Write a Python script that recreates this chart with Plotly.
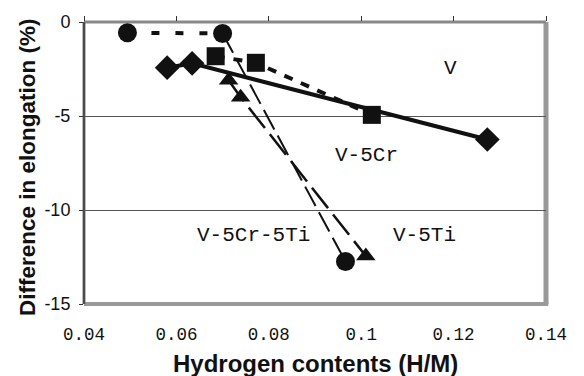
import plotly.graph_objects as go

# ---- data ----
v_x = [0.058, 0.0634, 0.1273]
v_y = [-2.43, -2.2, -6.25]

v5cr_x = [0.0685, 0.0772, 0.1023]
v5cr_y = [-1.82, -2.17, -4.94]

v5cr5ti_x = [0.0494, 0.0700, 0.0966]
v5cr5ti_y = [-0.57, -0.61, -12.74]

v5ti_x = [0.0713, 0.0739, 0.1010]
v5ti_y = [-3.1, -4.0, -12.45]

x_ticks = [0.04, 0.06, 0.08, 0.10, 0.12, 0.14]
x_ticktext = ["0.04", "0.06", "0.08", "0.1", "0.12", "0.14"]
y_ticks = [-15, -10, -5, 0]
y_ticktext = ["-15", "-10", "-5", "0"]

labels = ["V", "V-5Cr", "V-5Cr-5Ti", "V-5Ti"]
label_x = [0.1193, 0.1011, 0.0767, 0.1138]
label_y = [-2.47, -7.1, -11.36, -11.36]

x_title = "Hydrogen contents (H/M)"
y_title = "Difference in elongation (%)"

INK = "#111111"
fig = go.Figure()

# V: solid line + diamonds
fig.add_trace(go.Scatter(x=v_x, y=v_y, mode="lines+markers",
                         line=dict(color=INK, width=4),
                         marker=dict(symbol="diamond", size=19, color=INK),
                         cliponaxis=False, showlegend=False))
# V-5Cr: dashed line + squares
fig.add_trace(go.Scatter(x=v5cr_x, y=v5cr_y, mode="lines+markers",
                         line=dict(color=INK, width=4, dash="9px,9px"),
                         marker=dict(symbol="square", size=18, color=INK),
                         cliponaxis=False, showlegend=False))
# V-5Cr-5Ti: short dashes first segment, long thin dashes second
fig.add_trace(go.Scatter(x=v5cr5ti_x[:2], y=v5cr5ti_y[:2], mode="lines",
                         line=dict(color=INK, width=4, dash="8px,16px"),
                         cliponaxis=False, showlegend=False))
fig.add_trace(go.Scatter(x=v5cr5ti_x[1:], y=v5cr5ti_y[1:], mode="lines",
                         line=dict(color=INK, width=2, dash="22px,7px"),
                         cliponaxis=False, showlegend=False))
fig.add_trace(go.Scatter(x=v5cr5ti_x, y=v5cr5ti_y, mode="markers",
                         marker=dict(symbol="circle", size=19, color=INK),
                         cliponaxis=False, showlegend=False))
# V-5Ti: long dashes + triangles
fig.add_trace(go.Scatter(x=v5ti_x, y=v5ti_y, mode="lines+markers",
                         line=dict(color=INK, width=2.5, dash="26px,8px"),
                         marker=dict(symbol="triangle-up", size=17, color=INK),
                         cliponaxis=False, showlegend=False))
# invisible trace to carry the top tick axis
fig.add_trace(go.Scatter(x=[x_ticks[0], x_ticks[-1]], y=[0, 0], xaxis="x2",
                         mode="markers", marker=dict(opacity=0),
                         hoverinfo="skip", showlegend=False))

for t, lx, ly in zip(labels, label_x, label_y):
    fig.add_annotation(x=lx, y=ly, text=t, showarrow=False,
                       font=dict(family="Liberation Mono, Courier New, monospace",
                                 size=21, color="#111111"))

# axis titles
fig.add_annotation(xref="paper", yref="paper", x=0.5, y=0, yshift=-59,
                   text=x_title, showarrow=False, xanchor="center", yanchor="middle",
                   font=dict(family="Liberation Sans, Arial, sans-serif", size=24,
                             color="#111111", weight="bold"))
fig.add_annotation(xref="paper", yref="paper", x=0, xshift=-57, y=0.5, yshift=-4,
                   text=y_title, showarrow=False, textangle=-90,
                   xanchor="center", yanchor="middle",
                   font=dict(family="Liberation Sans, Arial, sans-serif", size=22.5,
                             color="#111111", weight="bold"))

# frame
fig.add_shape(type="line", xref="paper", yref="paper", x0=1, x1=1, y0=0, y1=1,
              line=dict(color="#999999", width=5), layer="below")
fig.add_shape(type="line", xref="paper", yref="paper", x0=0, x1=1.005, y0=0, y1=0,
              line=dict(color="#999999", width=4), layer="below")
fig.add_shape(type="line", xref="paper", yref="paper", x0=0, x1=1, y0=1, y1=1,
              line=dict(color="#888888", width=3), layer="below")
fig.add_shape(type="line", xref="paper", yref="paper", x0=0, x1=0, y0=0, y1=1,
              line=dict(color="#777777", width=3), layer="below")
fig.add_shape(type="line", xref="paper", yref="paper", x0=0, x1=0, y0=0, y1=1,
              line=dict(color="#222222", width=1), layer="below")

fig.update_layout(
    width=584, height=376,
    margin=dict(l=84, r=38, t=15, b=72),
    paper_bgcolor="white", plot_bgcolor="white",
    xaxis=dict(range=[0.04, 0.14], tickvals=x_ticks, ticktext=x_ticktext,
               showgrid=False, zeroline=False, showline=False, ticks="",
               ticklabelstandoff=17,
               tickfont=dict(family="Liberation Mono, Courier New, monospace",
                             size=17.5, color="#111111")),
    xaxis2=dict(range=[0.04, 0.14], overlaying="x", side="top",
                tickvals=x_ticks, showticklabels=False, ticks="outside",
                ticklen=5, tickwidth=1, tickcolor="#333333",
                showgrid=False, zeroline=False, showline=False),
    yaxis=dict(range=[-15, 0], tickvals=y_ticks, ticktext=y_ticktext,
               showgrid=True, gridcolor="#555555", gridwidth=1,
               zeroline=False, showline=False,
               ticks="outside", ticklen=4, tickcolor="#333333",
               ticklabelstandoff=5,
               tickfont=dict(family="Liberation Sans, Arial, sans-serif",
                             size=18, color="#111111")),
)

fig.write_html("out.html")
